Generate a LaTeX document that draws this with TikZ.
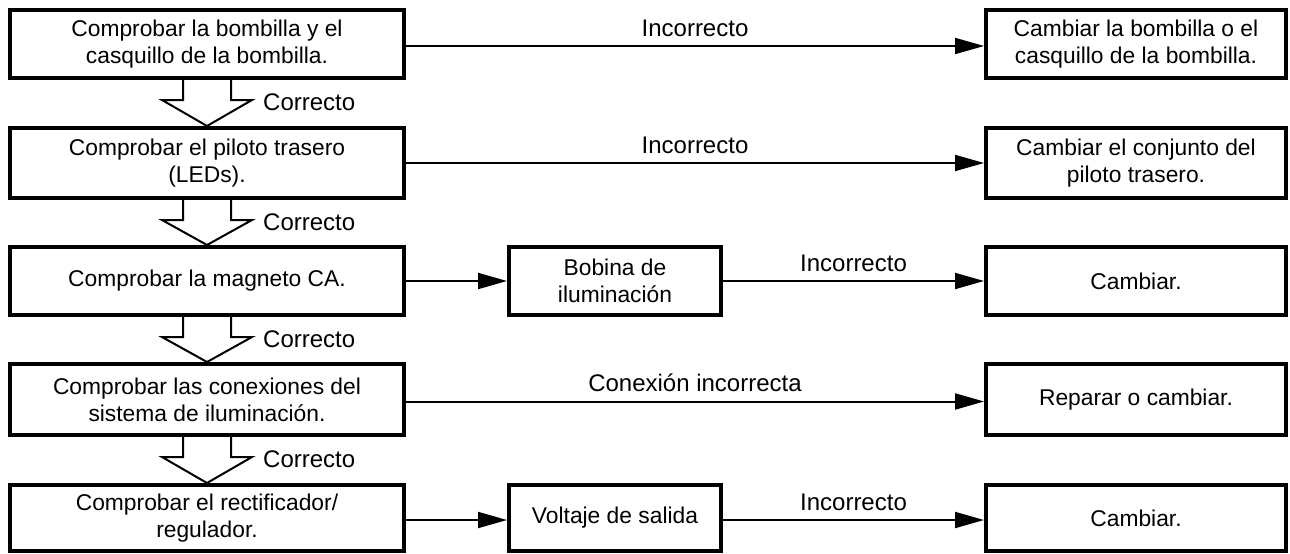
\documentclass[tikz,border=0pt]{standalone}
\usepackage{fontspec}
\setmainfont{Liberation Sans}
\usetikzlibrary{arrows.meta,calc}
\begin{document}
\begin{tikzpicture}[x=1pt,y=-1pt,
  txt/.style={font=\fontsize{22.8pt}{27.3pt}\selectfont},
  box/.style={txt, draw=black, line width=4pt, fill=white, align=center, inner sep=0pt},
  lbox/.style={box, minimum width=394pt},
  mbox/.style={box, minimum width=212pt},
  rbox/.style={box, minimum width=300pt},
  conn/.style={line width=2pt, -{Triangle[length=29pt,width=16pt]}},
  hollow/.style={draw=black, line width=2pt, fill=white, line join=miter},
  lbl/.style={font=\fontsize{24pt}{28pt}\selectfont, inner sep=0pt}
]
\fill[white] (0,0) rectangle (1290,554);
\useasboundingbox (0,0) rectangle (1290,554);

% left column
\node[lbox, minimum height=68pt] (b1) at (207,44) {Comprobar la bombilla y el\\casquillo de la bombilla.};
\node[lbox, minimum height=70pt] (b2) at (207,163) {Comprobar el piloto trasero\\(LEDs).};
\node[lbox, minimum height=68pt] (b3) at (207,281) {Comprobar la magneto CA.};
\node[lbox, minimum height=71pt] (b4) at (207,399.5) {Comprobar las conexiones del\\sistema de iluminación.};
\node[lbox, minimum height=66pt] (b5) at (207,518) {Comprobar el rectificador/\\regulador.};

% middle column
\node[mbox, minimum height=68pt] (m3) at (615,281) {Bobina de\\iluminación};
\node[mbox, minimum height=66pt] (m5) at (615,518) {Voltaje de salida};

% right column
\node[rbox, minimum height=68pt] (r1) at (1136,44) {Cambiar la bombilla o el\\casquillo de la bombilla.};
\node[rbox, minimum height=70pt] (r2) at (1136,163) {Cambiar el conjunto del\\piloto trasero.};
\node[rbox, minimum height=68pt] (r3) at (1136,281) {Cambiar.};
\node[rbox, minimum height=71pt] (r4) at (1136,399.5) {Reparar o cambiar.};
\node[rbox, minimum height=66pt] (r5) at (1136,518) {Cambiar.};

% hollow "Correcto" arrows
\foreach \a/\b/\n in {b1/b2/c1, b2/b3/c2, b3/b4/c3, b4/b5/c4}{
  \draw[hollow] ([xshift=-24pt]\a.south) -- ++(0,20) -- ++(-21,0) -- (\b.north)
     -- ($([xshift=24pt]\a.south)+(21,20)$) -- ++(-21,0) -- ([xshift=24pt]\a.south);
  \node[lbl, anchor=base west] (\n) at ($(\a.south)+(56,30)$) {Correcto};
}

% horizontal connectors
\draw[conn] ([yshift=-2pt]b1.east) -- node[lbl, anchor=base, yshift=10pt] (i1) {Incorrecto} ([yshift=-2pt]r1.west);
\draw[conn] (b2.east) -- node[lbl, anchor=base, yshift=10pt] (i2) {Incorrecto} (r2.west);
\draw[conn] (b3.east) -- (m3.west);
\draw[conn] (m3.east) -- node[lbl, anchor=base, yshift=10pt] (i3) {Incorrecto} (r3.west);
\draw[conn] ([yshift=-2pt]b4.east) -- node[lbl, anchor=base, yshift=10pt] (i4) {Conexión incorrecta} ([yshift=-2pt]r4.west);
\draw[conn] ([yshift=-2pt]b5.east) -- ([yshift=-2pt]m5.west);
\draw[conn] ([yshift=-2pt]m5.east) -- node[lbl, anchor=base, yshift=10pt] (i5) {Incorrecto} ([yshift=-2pt]r5.west);
\end{tikzpicture}
\end{document}
